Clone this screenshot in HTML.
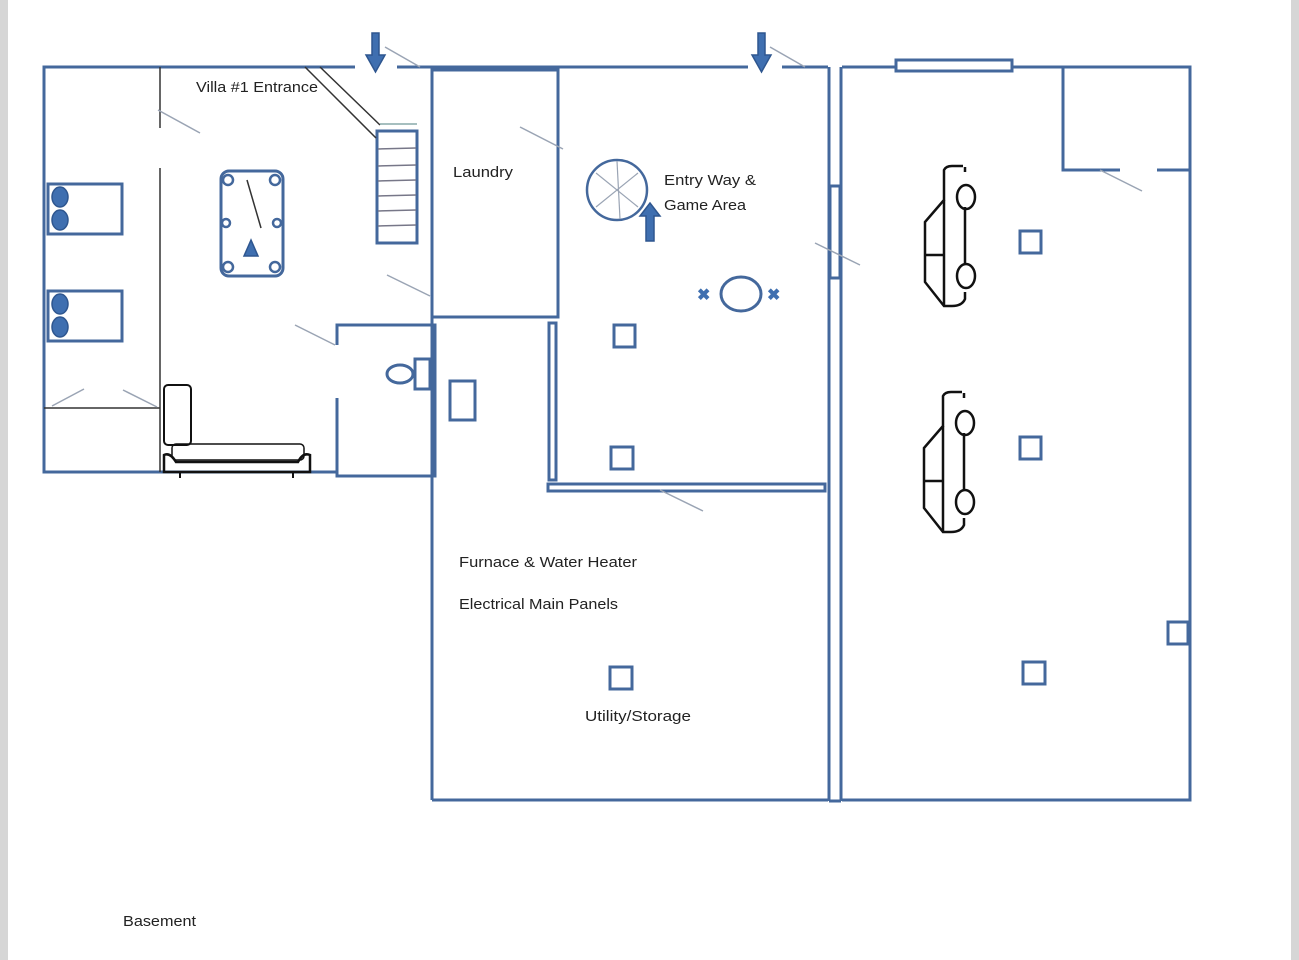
<!DOCTYPE html>
<html><head><meta charset="utf-8"><style>
html,body{margin:0;padding:0;background:#fff;}
svg{display:block;}
text{font-family:"Liberation Sans",sans-serif;font-size:15px;fill:#222;}
</style></head><body>
<svg width="1299" height="960" viewBox="0 0 1299 960" xmlns="http://www.w3.org/2000/svg">
<rect x="0" y="0" width="1299" height="960" fill="#fff"/>
<rect x="0" y="0" width="8" height="960" fill="#d6d6d6"/>
<rect x="1291" y="0" width="8" height="960" fill="#d6d6d6"/>
<g fill="none" stroke="#44689c" stroke-width="3">
<!-- outer left -->
<polyline points="355,67 44,67 44,472 337,472"/>
<line x1="397" y1="67" x2="748" y2="67"/>
<line x1="782" y1="67" x2="828" y2="67"/>
<!-- laundry -->
<rect x="432" y="70" width="126" height="247"/>
<line x1="432" y1="67" x2="432" y2="800"/>
<!-- bathroom -->
<polyline points="337,345 337,325 435,325 435,476 337,476 337,398"/>
<!-- utility -->
<polyline points="432,800 828,800"/>
<!-- double wall -->
<line x1="829" y1="67" x2="829" y2="801"/>
<line x1="841" y1="67" x2="841" y2="801"/>
<line x1="829" y1="801" x2="841" y2="801"/>
<rect x="830" y="186" width="10" height="92" fill="#fff"/>
<!-- inner walls -->
<rect x="549" y="323" width="7" height="157"/>
<rect x="548" y="484" width="277" height="7"/>
<!-- garage -->
<polyline points="842,67 1190,67 1190,800 842,800"/>
<rect x="896" y="60" width="116" height="11" fill="#fff"/>
<polyline points="1063,67 1063,170 1120,170"/>
<line x1="1157" y1="170" x2="1190" y2="170"/>
<!-- stairs -->
<rect x="377" y="131" width="40" height="112"/>
<!-- beds -->
<rect x="48" y="184" width="74" height="50"/>
<rect x="48" y="291" width="74" height="50"/>
<!-- pool table -->
<rect x="221" y="171" width="62" height="105" rx="8"/>
<!-- squares -->
<rect x="614" y="325" width="21" height="22"/>
<rect x="611" y="447" width="22" height="22"/>
<rect x="450" y="381" width="25" height="39"/>
<rect x="610" y="667" width="22" height="22"/>
<rect x="1020" y="231" width="21" height="22"/>
<rect x="1020" y="437" width="21" height="22"/>
<rect x="1023" y="662" width="22" height="22"/>
<rect x="1168" y="622" width="20" height="22"/>
<rect x="415" y="359" width="15" height="30"/>
<ellipse cx="400" cy="374" rx="13" ry="9"/>
<ellipse cx="741" cy="294" rx="20" ry="17"/>
<circle cx="617" cy="190" r="30" stroke-width="2.5"/>
</g>
<!-- thin dark lines -->
<g stroke="#333" stroke-width="1.5" fill="none">
<line x1="160" y1="67" x2="160" y2="128"/>
<line x1="160" y1="168" x2="160" y2="472"/>
<line x1="44" y1="408" x2="160" y2="408"/>
<line x1="305" y1="67" x2="376" y2="138"/>
<line x1="320" y1="67" x2="380" y2="125"/>
<line x1="380" y1="124" x2="417" y2="124" stroke="#8aa"/>
<line x1="378" y1="149" x2="416" y2="148" stroke="#778"/>
<line x1="378" y1="166" x2="416" y2="165" stroke="#778"/>
<line x1="378" y1="181" x2="416" y2="180" stroke="#778"/>
<line x1="378" y1="196" x2="416" y2="195" stroke="#778"/>
<line x1="378" y1="211" x2="416" y2="210" stroke="#778"/>
<line x1="378" y1="226" x2="416" y2="225" stroke="#778"/>
<line x1="247" y1="180" x2="261" y2="228"/>
<!-- sofa -->
<rect x="164" y="385" width="27" height="60" rx="4" stroke="#111" stroke-width="2"/>
<path d="M164,472 L164,455 Q170,452 176,462 L298,462 Q303,452 310,455 L310,472 Z" stroke="#111" stroke-width="2.5"/>
<rect x="172" y="444" width="132" height="16" rx="4" stroke="#111" stroke-width="1.5"/>
<line x1="180" y1="472" x2="180" y2="478" stroke="#111" stroke-width="2"/>
<line x1="293" y1="472" x2="293" y2="478" stroke="#111" stroke-width="2"/>
</g>
<!-- gray door swings -->
<g stroke="#9aa4b4" stroke-width="1.5">
<line x1="158" y1="110" x2="200" y2="133"/>
<line x1="385" y1="47" x2="420" y2="67"/>
<line x1="770" y1="47" x2="805" y2="67"/>
<line x1="520" y1="127" x2="563" y2="149"/>
<line x1="387" y1="275" x2="430" y2="296"/>
<line x1="295" y1="325" x2="335" y2="345"/>
<line x1="52" y1="406" x2="84" y2="389"/>
<line x1="123" y1="390" x2="157" y2="407"/>
<line x1="815" y1="243" x2="860" y2="265"/>
<line x1="660" y1="490" x2="703" y2="511"/>
<line x1="1100" y1="170" x2="1142" y2="191"/>
</g>
<g stroke="#9aa4b4" stroke-width="1.2" fill="none">
<line x1="596" y1="173" x2="638" y2="207"/>
<line x1="596" y1="207" x2="638" y2="173"/>
<line x1="617" y1="161" x2="620" y2="219"/>
</g>
<!-- bed pillows -->
<g fill="#3f6fb0" stroke="#2e568f" stroke-width="1.5">
<ellipse cx="60" cy="197" rx="8" ry="10"/><ellipse cx="60" cy="220" rx="8" ry="10"/>
<ellipse cx="60" cy="304" rx="8" ry="10"/><ellipse cx="60" cy="327" rx="8" ry="10"/>
<polygon points="251,240 244,256 258,256"/>
<!-- arrows -->
<polygon points="372,33 379,33 379,55 385,55 375.5,72 366,55 372,55"/>
<polygon points="758,33 765,33 765,55 771,55 761.5,72 752,55 758,55"/>
<polygon points="646,241 654,241 654,216 660,216 650,203 640,216 646,216"/>
</g>
<g fill="#fff" stroke="#44689c" stroke-width="2.5">
<circle cx="228" cy="180" r="5"/><circle cx="275" cy="180" r="5"/>
<circle cx="226" cy="223" r="4"/><circle cx="277" cy="223" r="4"/>
<circle cx="228" cy="267" r="5"/><circle cx="275" cy="267" r="5"/>
</g>
<g fill="#3f6fb0" font-size="14">
<text x="697" y="300" style="fill:#3f6fb0;font-size:16px;font-weight:bold">✖</text>
<text x="767" y="300" style="fill:#3f6fb0;font-size:16px;font-weight:bold">✖</text>
</g>
<!-- cars -->
<g id="car" fill="none" stroke="#111" stroke-width="2.5">
<path d="M965,167 L965,172 M965,207 L965,264 M965,292 L965,299 Q962,306 952,306 L944,306 L925,282 L925,222 L944,200 L944,170 Q946,166 952,166 L963,166"/>
<line x1="944" y1="200" x2="944" y2="306"/>
<line x1="925" y1="255" x2="944" y2="255"/>
<ellipse cx="966" cy="197" rx="9" ry="12"/>
<ellipse cx="966" cy="276" rx="9" ry="12"/>
</g>
<use href="#car" transform="translate(-1,226)"/>
<text x="196" y="92" textLength="122" lengthAdjust="spacingAndGlyphs">Villa #1 Entrance</text>
<text x="453" y="177" textLength="60" lengthAdjust="spacingAndGlyphs">Laundry</text>
<text x="664" y="185" textLength="92" lengthAdjust="spacingAndGlyphs">Entry Way &amp;</text>
<text x="664" y="210" textLength="82" lengthAdjust="spacingAndGlyphs">Game Area</text>
<text x="459" y="567" textLength="178" lengthAdjust="spacingAndGlyphs">Furnace &amp; Water Heater</text>
<text x="459" y="609" textLength="159" lengthAdjust="spacingAndGlyphs">Electrical Main Panels</text>
<text x="585" y="721" textLength="106" lengthAdjust="spacingAndGlyphs">Utility/Storage</text>
<text x="123" y="926" textLength="73" lengthAdjust="spacingAndGlyphs">Basement</text>
</svg>
</body></html>
